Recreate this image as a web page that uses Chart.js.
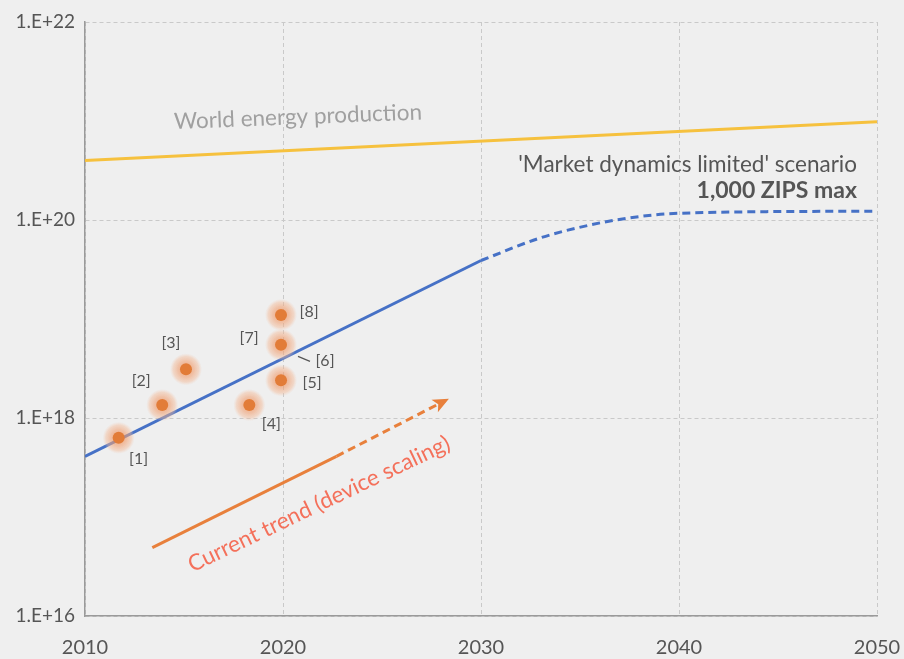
<!DOCTYPE html>
<html>
<head>
<meta charset="utf-8">
<script src="https://cdn.jsdelivr.net/npm/chart.js@4.4.0/dist/chart.umd.min.js"></script>
<style>
  html, body { margin: 0; padding: 0; background: #efefef; }
  canvas { display: block; }
</style>
</head>
<body>
<canvas id="zipsChart" width="904" height="659"></canvas>
<script>
// values
const xTicks = [2010, 2020, 2030, 2040, 2050];
const yTicks = [1e16, 1e18, 1e20, 1e22];

const energyYears = [2010, 2050];
const energyValues = [4.0e20, 9.8e20];

const scenarioYears = [2010, 2030];
const scenarioValues = [4.1e17, 3.9e19];

const limitedYears = [2030, 2033, 2035.5, 2037.5, 2040, 2050];
const limitedValues = [3.9e19, 6.6e19, 8.9e19, 1.05e20, 1.17e20, 1.23e20];

const trendYears = [2013.4, 2022.7];
const trendValues = [4.9e16, 4.1e17];
const trendDashYears = [2022.7, 2028.2];
const trendDashValues = [4.1e17, 1.5e18];

const refLabels = ["[1]", "[2]", "[3]", "[4]", "[5]", "[7]", "[8]"];
const refYears = [2011.7, 2013.9, 2015.1, 2018.3, 2019.9, 2019.9, 2019.9];
const refValues = [6.3e17, 1.35e18, 3.1e18, 1.35e18, 2.4e18, 5.5e18, 1.1e19];

const toPoints = (xs, ys) => xs.map((x, i) => ({ x, y: ys[i] }));

// where each reference label sits relative to its dot (pixels)
const labelOffsets = {
  "[1]": [20, 21], "[2]": [-21, -24], "[3]": [-15, -27], "[4]": [22, 19],
  "[5]": [31, 2], "[7]": [-32, -7], "[8]": [28, -3]
};

const TEXT = "#555555";
const FONT = "Lato, 'Open Sans', sans-serif";

// halos are painted under the dots but over the lines
const haloPlugin = {
  id: "halo",
  beforeDatasetDraw(chart, args) {
    if (args.index !== 0) return;
    const ctx = chart.ctx;
    args.meta.data.forEach((pt) => {
      const g = ctx.createRadialGradient(pt.x, pt.y, 0, pt.x, pt.y, 16);
      g.addColorStop(0, "rgba(236,130,70,0.7)");
      g.addColorStop(0.5, "rgba(240,160,115,0.6)");
      g.addColorStop(0.8, "rgba(243,185,150,0.45)");
      g.addColorStop(1, "rgba(246,200,175,0)");
      ctx.save();
      ctx.fillStyle = g;
      ctx.beginPath();
      ctx.arc(pt.x, pt.y, 16, 0, Math.PI * 2);
      ctx.fill();
      ctx.restore();
    });
  }
};

const notesPlugin = {
  id: "notes",
  afterDatasetsDraw(chart) {
    const ctx = chart.ctx;
    const xs = chart.scales.x, ys = chart.scales.y;
    const px = (v) => xs.getPixelForValue(v);
    const py = (v) => ys.getPixelForValue(v);

    ctx.save();
    ctx.textAlign = "center";
    ctx.textBaseline = "middle";
    ctx.fillStyle = TEXT;
    ctx.font = "16px " + FONT;

    // reference labels
    const dots = chart.getDatasetMeta(0).data;
    dots.forEach((pt, i) => {
      const off = labelOffsets[refLabels[i]];
      ctx.fillText(refLabels[i], pt.x + off[0], pt.y + off[1]);
    });

    // [6] points at the trend line itself
    const logMid = (Math.log10(scenarioValues[0]) + Math.log10(scenarioValues[1])) / 2;
    const ax = px(2020), ay = py(Math.pow(10, logMid));
    ctx.strokeStyle = "#555555";
    ctx.lineWidth = 1.2;
    ctx.beginPath();
    ctx.moveTo(ax + 15, ay - 2);
    ctx.lineTo(ax + 27, ay + 3);
    ctx.stroke();
    ctx.fillText("[6]", ax + 42, ay + 2);

    // arrow head at the end of the trend
    const n = trendDashYears.length;
    const ex = px(trendDashYears[n - 1]), ey = py(trendDashValues[n - 1]);
    const sx = px(trendDashYears[0]), sy = py(trendDashValues[0]);
    const ang = Math.atan2(ey - sy, ex - sx);
    ctx.save();
    ctx.translate(ex, ey);
    ctx.rotate(ang);
    ctx.fillStyle = "#e8803c";
    ctx.beginPath();
    ctx.moveTo(4, 0);
    ctx.lineTo(-12, -7);
    ctx.lineTo(-8, 0);
    ctx.lineTo(-12, 7);
    ctx.closePath();
    ctx.fill();
    ctx.restore();

    // trend caption, parallel to the arrow
    const tAng = Math.atan2(py(trendDashValues[1]) - py(trendValues[0]),
                            px(trendDashYears[1]) - px(trendYears[0]));
    ctx.save();
    ctx.translate(319, 504);
    ctx.rotate(tAng + 0.02);
    ctx.fillStyle = "#f4705a";
    ctx.font = "22.5px " + FONT;
    ctx.fillText("Current trend (device scaling)", 0, 0);
    ctx.restore();

    // world energy caption, parallel to the yellow line
    const eAng = Math.atan2(py(energyValues[1]) - py(energyValues[0]),
                            px(energyYears[1]) - px(energyYears[0]));
    ctx.save();
    ctx.translate(298, 117);
    ctx.rotate(eAng * 0.8);
    ctx.fillStyle = "#a0a0a0";
    ctx.font = "22.5px " + FONT;
    ctx.fillText("World energy production", 0, 0);
    ctx.restore();

    // scenario caption
    ctx.textAlign = "right";
    ctx.fillStyle = TEXT;
    ctx.font = "22.5px " + FONT;
    ctx.fillText("'Market dynamics limited' scenario", 857, 165);
    ctx.font = "bold 23px " + FONT;
    ctx.fillText("1,000 ZIPS max", 857, 191);
    ctx.restore();
  }
};

const canvas = document.getElementById("zipsChart");

new Chart(canvas, {
  type: "scatter",
  data: {
    datasets: [
      {
        label: "References",
        data: toPoints(refYears, refValues),
        pointRadius: 6,
        pointBackgroundColor: "#e27c38",
        pointBorderWidth: 0,
        showLine: false
      },
      {
        label: "World energy production",
        data: toPoints(energyYears, energyValues),
        showLine: true,
        borderColor: "#f6c13e",
        borderWidth: 3,
        pointRadius: 0
      },
      {
        label: "Scenario",
        data: toPoints(scenarioYears, scenarioValues),
        showLine: true,
        borderColor: "#4671c6",
        borderWidth: 3,
        pointRadius: 0
      },
      {
        label: "Market dynamics limited",
        data: toPoints(limitedYears, limitedValues),
        showLine: true,
        borderColor: "#4671c6",
        borderWidth: 3,
        borderDash: [8, 5],
        cubicInterpolationMode: "monotone",
        pointRadius: 0
      },
      {
        label: "Current trend",
        data: toPoints(trendYears, trendValues),
        showLine: true,
        borderColor: "#e8803c",
        borderWidth: 3,
        pointRadius: 0
      },
      {
        label: "Current trend (projected)",
        data: toPoints(trendDashYears, trendDashValues),
        showLine: true,
        borderColor: "#e8803c",
        borderWidth: 3,
        borderDash: [8, 5],
        pointRadius: 0
      }
    ]
  },
  options: {
    responsive: false,
    animation: false,
    layout: { padding: { top: 22, right: 27, left: 0, bottom: 0 } },
    plugins: {
      legend: { display: false },
      tooltip: { enabled: false }
    },
    scales: {
      x: {
        type: "linear",
        min: 2010,
        max: 2050,
        afterBuildTicks: (scale) => { scale.ticks = xTicks.map((v) => ({ value: v })); },
        afterFit: (scale) => {
          scale.height = 43;
          scale.paddingLeft = 0;
          scale.paddingRight = 0;
        },
        grid: { color: "#c9c9c9", lineWidth: 1, drawTicks: false },
        border: { display: true, color: "#9a9a9a", width: 1.5, dash: [4, 3] },
        ticks: {
          padding: 20,
          color: TEXT,
          font: { family: FONT, size: 20 },
          callback: (v) => String(v)
        }
      },
      y: {
        type: "logarithmic",
        min: 1e16,
        max: 1e22,
        afterBuildTicks: (scale) => { scale.ticks = yTicks.map((v) => ({ value: v })); },
        afterFit: (scale) => {
          scale.width = 85;
          scale.paddingTop = 0;
          scale.paddingBottom = 0;
        },
        grid: { color: "#c9c9c9", lineWidth: 1, drawTicks: false },
        border: { display: true, color: "#9a9a9a", width: 1.5, dash: [4, 3] },
        ticks: {
          padding: 10,
          color: TEXT,
          font: { family: FONT, size: 19 },
          callback: (v) => "1.E+" + Math.round(Math.log10(v))
        }
      }
    }
  },
  plugins: [haloPlugin, notesPlugin]
});
</script>
</body>
</html>
